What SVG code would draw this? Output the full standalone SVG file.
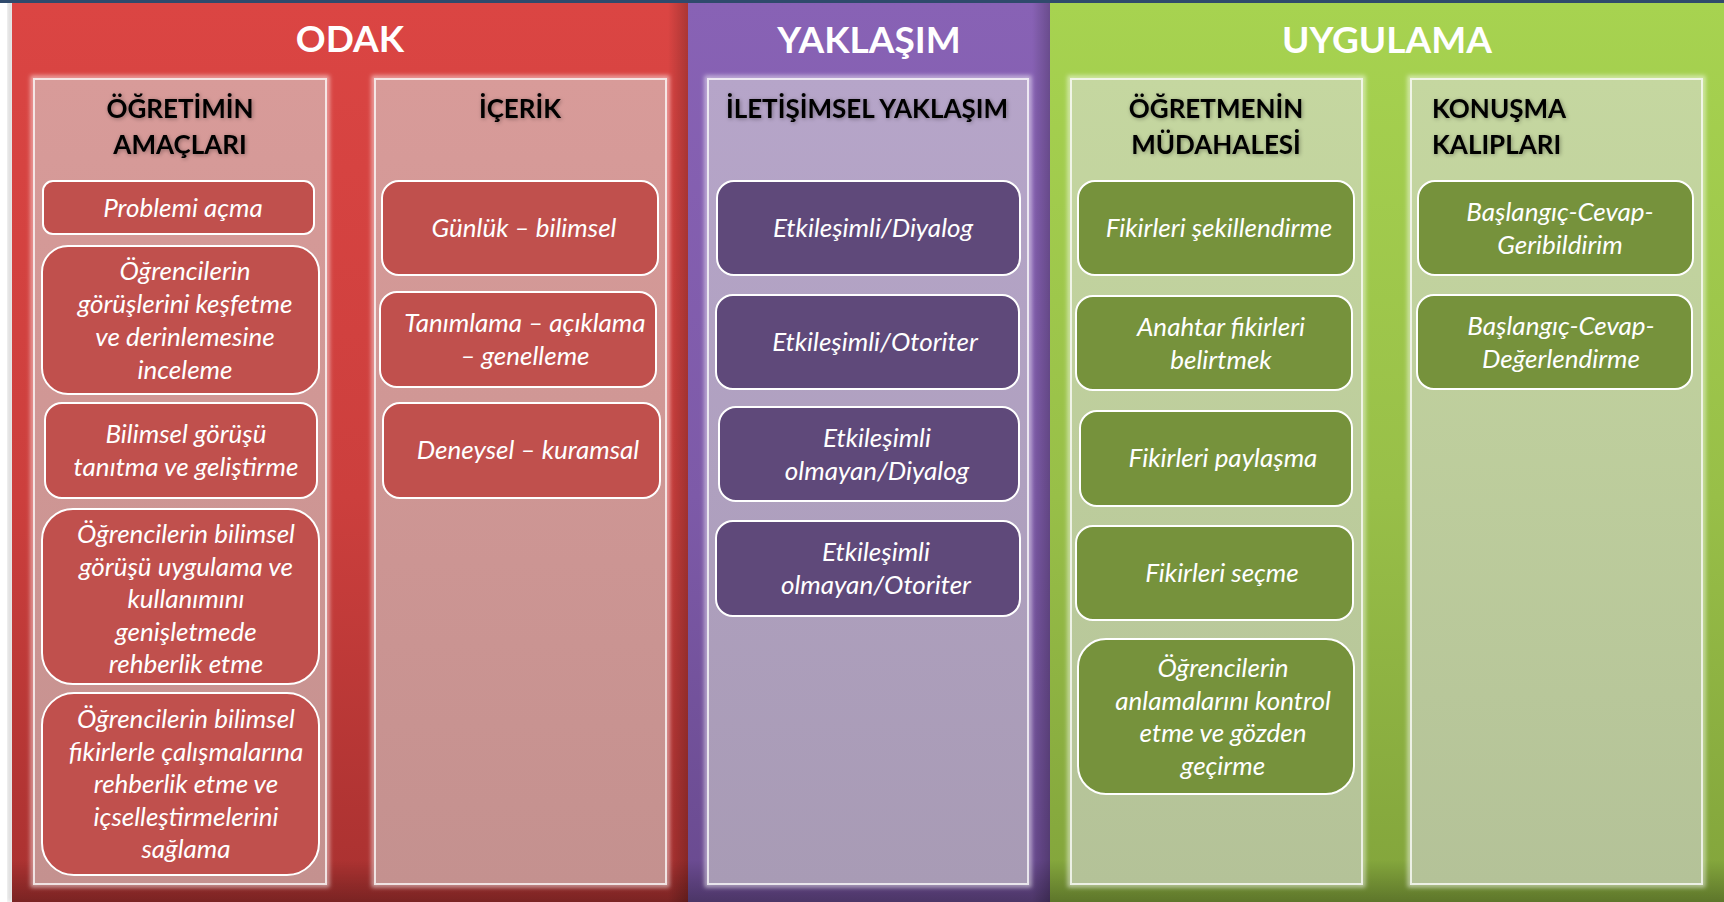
<svg xmlns="http://www.w3.org/2000/svg" width="1724" height="902" viewBox="0 0 1724 902">
  <defs>
    <linearGradient id="gRed" x1="0" y1="0" x2="0" y2="1">
      <stop offset="0" stop-color="#db4543"/>
      <stop offset="0.55" stop-color="#cc3f3d"/>
      <stop offset="1" stop-color="#a93130"/>
    </linearGradient>
    <linearGradient id="gPurple" x1="0" y1="0" x2="0" y2="1">
      <stop offset="0" stop-color="#8862b5"/>
      <stop offset="0.55" stop-color="#7d5aa8"/>
      <stop offset="1" stop-color="#694a8f"/>
    </linearGradient>
    <linearGradient id="gGreen" x1="0" y1="0" x2="0" y2="1">
      <stop offset="0" stop-color="#a7d350"/>
      <stop offset="0.55" stop-color="#98bf48"/>
      <stop offset="1" stop-color="#82a43b"/>
    </linearGradient>
    <linearGradient id="gRedIn" x1="0" y1="0" x2="0" y2="1">
      <stop offset="0" stop-color="#d89b99"/>
      <stop offset="1" stop-color="#c4918f"/>
    </linearGradient>
    <linearGradient id="gPurpleIn" x1="0" y1="0" x2="0" y2="1">
      <stop offset="0" stop-color="#b6a5c9"/>
      <stop offset="1" stop-color="#a89bb5"/>
    </linearGradient>
    <linearGradient id="gGreenIn" x1="0" y1="0" x2="0" y2="1">
      <stop offset="0" stop-color="#c5d7a0"/>
      <stop offset="1" stop-color="#b4c298"/>
    </linearGradient>
    <!-- bottom bevel shading for the three large panels -->
    <linearGradient id="gBevel" x1="0" y1="0" x2="0" y2="1">
      <stop offset="0" stop-color="#000" stop-opacity="0"/>
      <stop offset="1" stop-color="#000" stop-opacity="0.28"/>
    </linearGradient>
    <linearGradient id="gSide" x1="0" y1="0" x2="1" y2="0">
      <stop offset="0" stop-color="#000" stop-opacity="0"/>
      <stop offset="1" stop-color="#000" stop-opacity="0.22"/>
    </linearGradient>
    <filter id="glow" x="-5%" y="-5%" width="110%" height="110%">
      <feGaussianBlur stdDeviation="2"/>
    </filter>
    <filter id="txtShadow" x="-10%" y="-30%" width="120%" height="160%">
      <feGaussianBlur in="SourceAlpha" stdDeviation="2"/>
      <feOffset dx="1" dy="1" result="b"/>
      <feComponentTransfer in="b" result="s"><feFuncA type="linear" slope="0.35"/></feComponentTransfer>
      <feMerge><feMergeNode in="s"/><feMergeNode in="SourceGraphic"/></feMerge>
    </filter>
  </defs>
  <style>
    .title { font-family: Lato, "Open Sans", "Liberation Sans", sans-serif; font-weight: 700; font-size: 37px; fill: #ffffff; text-anchor: middle; }
    .head { font-family: Lato, "Open Sans", "Liberation Sans", sans-serif; font-weight: 700; font-size: 26px; fill: #000000; text-anchor: middle; }
    .headL { text-anchor: start; }
    .lbl { font-family: Lato, "Open Sans", "Liberation Sans", sans-serif; font-style: italic; font-size: 26px; fill: #ffffff; text-anchor: middle; }
    .box { stroke: #ffffff; stroke-width: 2; }
    .red { fill: #c0504d; }
    .purple { fill: #5f497a; }
    .green { fill: #76923c; }
    .inEdge { fill: none; stroke: #ffffff; stroke-opacity: 0.75; stroke-width: 2; }
    .inGlow { fill: none; stroke: #ffffff; stroke-opacity: 0.55; stroke-width: 5; }
  </style>

  <rect x="0" y="0" width="1724" height="902" fill="#ffffff"/>
  <!-- left shadow strip and top rule -->
  <rect x="8" y="0" width="4" height="902" fill="#9a9a9a" opacity="0.45" filter="url(#glow)"/>
  <rect x="0" y="0" width="1724" height="3" fill="#2f4a6c"/>

  <!-- ODAK -->
  <g id="panel-odak">
    <rect x="12" y="3" width="676" height="899" fill="url(#gRed)"/>
    <rect x="12" y="860" width="676" height="42" fill="url(#gBevel)"/>
    <rect x="668" y="3" width="20" height="899" fill="url(#gSide)"/>
    <text class="title" x="350" y="52">ODAK</text>
  </g>
  <!-- YAKLAŞIM -->
  <g id="panel-yaklasim">
    <rect x="688" y="3" width="362" height="899" fill="url(#gPurple)"/>
    <rect x="688" y="860" width="362" height="42" fill="url(#gBevel)"/>
    <rect x="1032" y="3" width="18" height="899" fill="url(#gSide)"/>
    <text class="title" x="869" y="53">YAKLAŞIM</text>
  </g>
  <!-- UYGULAMA -->
  <g id="panel-uygulama">
    <rect x="1050" y="3" width="674" height="899" fill="url(#gGreen)"/>
    <rect x="1050" y="860" width="674" height="42" fill="url(#gBevel)"/>
    <text class="title" x="1387" y="53">UYGULAMA</text>
  </g>

  <!-- column panels -->
  <g id="col-amaclar">
    <rect class="inGlow" x="33" y="78" width="294" height="807" filter="url(#glow)"/>
    <rect x="33" y="78" width="294" height="807" fill="url(#gRedIn)"/>
    <rect class="inEdge" x="34" y="79" width="292" height="805"/>
    <g filter="url(#txtShadow)">
      <text class="head" x="180" y="118">ÖĞRETİMİN</text>
      <text class="head" x="180" y="154">AMAÇLARI</text>
    </g>
  </g>
  <g id="col-icerik">
    <rect class="inGlow" x="374" y="78" width="293" height="807" filter="url(#glow)"/>
    <rect x="374" y="78" width="293" height="807" fill="url(#gRedIn)"/>
    <rect class="inEdge" x="375" y="79" width="291" height="805"/>
    <g filter="url(#txtShadow)">
      <text class="head" x="520" y="118">İÇERİK</text>
    </g>
  </g>
  <g id="col-iletisimsel">
    <rect class="inGlow" x="707" y="78" width="322" height="807" filter="url(#glow)"/>
    <rect x="707" y="78" width="322" height="807" fill="url(#gPurpleIn)"/>
    <rect class="inEdge" x="708" y="79" width="320" height="805"/>
    <g filter="url(#txtShadow)">
      <text class="head" x="867" y="118">İLETİŞİMSEL YAKLAŞIM</text>
    </g>
  </g>
  <g id="col-mudahale">
    <rect class="inGlow" x="1070" y="78" width="293" height="807" filter="url(#glow)"/>
    <rect x="1070" y="78" width="293" height="807" fill="url(#gGreenIn)"/>
    <rect class="inEdge" x="1071" y="79" width="291" height="805"/>
    <g filter="url(#txtShadow)">
      <text class="head" x="1216" y="118">ÖĞRETMENİN</text>
      <text class="head" x="1216" y="154">MÜDAHALESİ</text>
    </g>
  </g>
  <g id="col-kaliplar">
    <rect class="inGlow" x="1410" y="78" width="293" height="807" filter="url(#glow)"/>
    <rect x="1410" y="78" width="293" height="807" fill="url(#gGreenIn)"/>
    <rect class="inEdge" x="1411" y="79" width="291" height="805"/>
    <g filter="url(#txtShadow)">
      <text class="head headL" x="1432" y="118">KONUŞMA</text>
      <text class="head headL" x="1432" y="154">KALIPLARI</text>
    </g>
  </g>

  <!-- ÖĞRETİMİN AMAÇLARI items -->
  <g id="n-problemi">
    <rect class="box red" x="43" y="181" width="271" height="53" rx="10"/>
    <text class="lbl" x="183" y="217">Problemi açma</text>
  </g>
  <g id="n-gorusleri">
    <rect class="box red" x="42" y="246" width="277" height="148" rx="26"/>
    <text class="lbl" x="185" y="280">Öğrencilerin</text>
    <text class="lbl" x="185" y="313">görüşlerini keşfetme</text>
    <text class="lbl" x="185" y="346">ve derinlemesine</text>
    <text class="lbl" x="185" y="379">inceleme</text>
  </g>
  <g id="n-tanitma">
    <rect class="box red" x="45" y="403" width="272" height="95" rx="17"/>
    <text class="lbl" x="186" y="443">Bilimsel görüşü</text>
    <text class="lbl" x="186" y="476">tanıtma ve geliştirme</text>
  </g>
  <g id="n-uygulama">
    <rect class="box red" x="42" y="509" width="277" height="175" rx="31"/>
    <text class="lbl" x="186" y="543">Öğrencilerin bilimsel</text>
    <text class="lbl" x="186" y="575.5">görüşü uygulama ve</text>
    <text class="lbl" x="186" y="608">kullanımını</text>
    <text class="lbl" x="186" y="640.5">genişletmede</text>
    <text class="lbl" x="186" y="673">rehberlik etme</text>
  </g>
  <g id="n-icsellestirme">
    <rect class="box red" x="42" y="693" width="277" height="182" rx="32"/>
    <text class="lbl" x="186" y="728">Öğrencilerin bilimsel</text>
    <text class="lbl" x="186" y="760.5">fikirlerle çalışmalarına</text>
    <text class="lbl" x="186" y="793">rehberlik etme ve</text>
    <text class="lbl" x="186" y="825.5">içselleştirmelerini</text>
    <text class="lbl" x="186" y="858">sağlama</text>
  </g>

  <!-- İÇERİK items -->
  <g id="n-gunluk">
    <rect class="box red" x="382" y="181" width="276" height="94" rx="17"/>
    <text class="lbl" x="524" y="237">Günlük – bilimsel</text>
  </g>
  <g id="n-tanimlama">
    <rect class="box red" x="380" y="292" width="276" height="95" rx="17"/>
    <text class="lbl" x="525" y="332">Tanımlama – açıklama</text>
    <text class="lbl" x="525" y="364.5">– genelleme</text>
  </g>
  <g id="n-deneysel">
    <rect class="box red" x="383" y="403" width="277" height="95" rx="17"/>
    <text class="lbl" x="528" y="459">Deneysel – kuramsal</text>
  </g>

  <!-- İLETİŞİMSEL YAKLAŞIM items -->
  <g id="n-etk-diyalog">
    <rect class="box purple" x="717" y="181" width="303" height="94" rx="17"/>
    <text class="lbl" x="873" y="237">Etkileşimli/Diyalog</text>
  </g>
  <g id="n-etk-otoriter">
    <rect class="box purple" x="716" y="295" width="303" height="94" rx="17"/>
    <text class="lbl" x="875" y="351">Etkileşimli/Otoriter</text>
  </g>
  <g id="n-etkolm-diyalog">
    <rect class="box purple" x="719" y="407" width="300" height="94" rx="17"/>
    <text class="lbl" x="877" y="447">Etkileşimli</text>
    <text class="lbl" x="877" y="479.5">olmayan/Diyalog</text>
  </g>
  <g id="n-etkolm-otoriter">
    <rect class="box purple" x="716" y="521" width="304" height="95" rx="17"/>
    <text class="lbl" x="876" y="561">Etkileşimli</text>
    <text class="lbl" x="876" y="593.5">olmayan/Otoriter</text>
  </g>

  <!-- ÖĞRETMENİN MÜDAHALESİ items -->
  <g id="n-sekillendirme">
    <rect class="box green" x="1078" y="181" width="276" height="94" rx="17"/>
    <text class="lbl" x="1219" y="237">Fikirleri şekillendirme</text>
  </g>
  <g id="n-anahtar">
    <rect class="box green" x="1076" y="296" width="276" height="94" rx="17"/>
    <text class="lbl" x="1221" y="336">Anahtar fikirleri</text>
    <text class="lbl" x="1221" y="368.5">belirtmek</text>
  </g>
  <g id="n-paylasma">
    <rect class="box green" x="1080" y="411" width="272" height="95" rx="17"/>
    <text class="lbl" x="1223" y="467">Fikirleri paylaşma</text>
  </g>
  <g id="n-secme">
    <rect class="box green" x="1076" y="526" width="277" height="94" rx="17"/>
    <text class="lbl" x="1222" y="582">Fikirleri seçme</text>
  </g>
  <g id="n-kontrol">
    <rect class="box green" x="1078" y="639" width="276" height="155" rx="28"/>
    <text class="lbl" x="1223" y="677">Öğrencilerin</text>
    <text class="lbl" x="1223" y="709.5">anlamalarını kontrol</text>
    <text class="lbl" x="1223" y="742">etme ve gözden</text>
    <text class="lbl" x="1223" y="774.5">geçirme</text>
  </g>

  <!-- KONUŞMA KALIPLARI items -->
  <g id="n-geribildirim">
    <rect class="box green" x="1418" y="181" width="275" height="94" rx="17"/>
    <text class="lbl" x="1560" y="221">Başlangıç-Cevap-</text>
    <text class="lbl" x="1560" y="253.5">Geribildirim</text>
  </g>
  <g id="n-degerlendirme">
    <rect class="box green" x="1417" y="295" width="275" height="94" rx="17"/>
    <text class="lbl" x="1561" y="335">Başlangıç-Cevap-</text>
    <text class="lbl" x="1561" y="367.5">Değerlendirme</text>
  </g>
</svg>
